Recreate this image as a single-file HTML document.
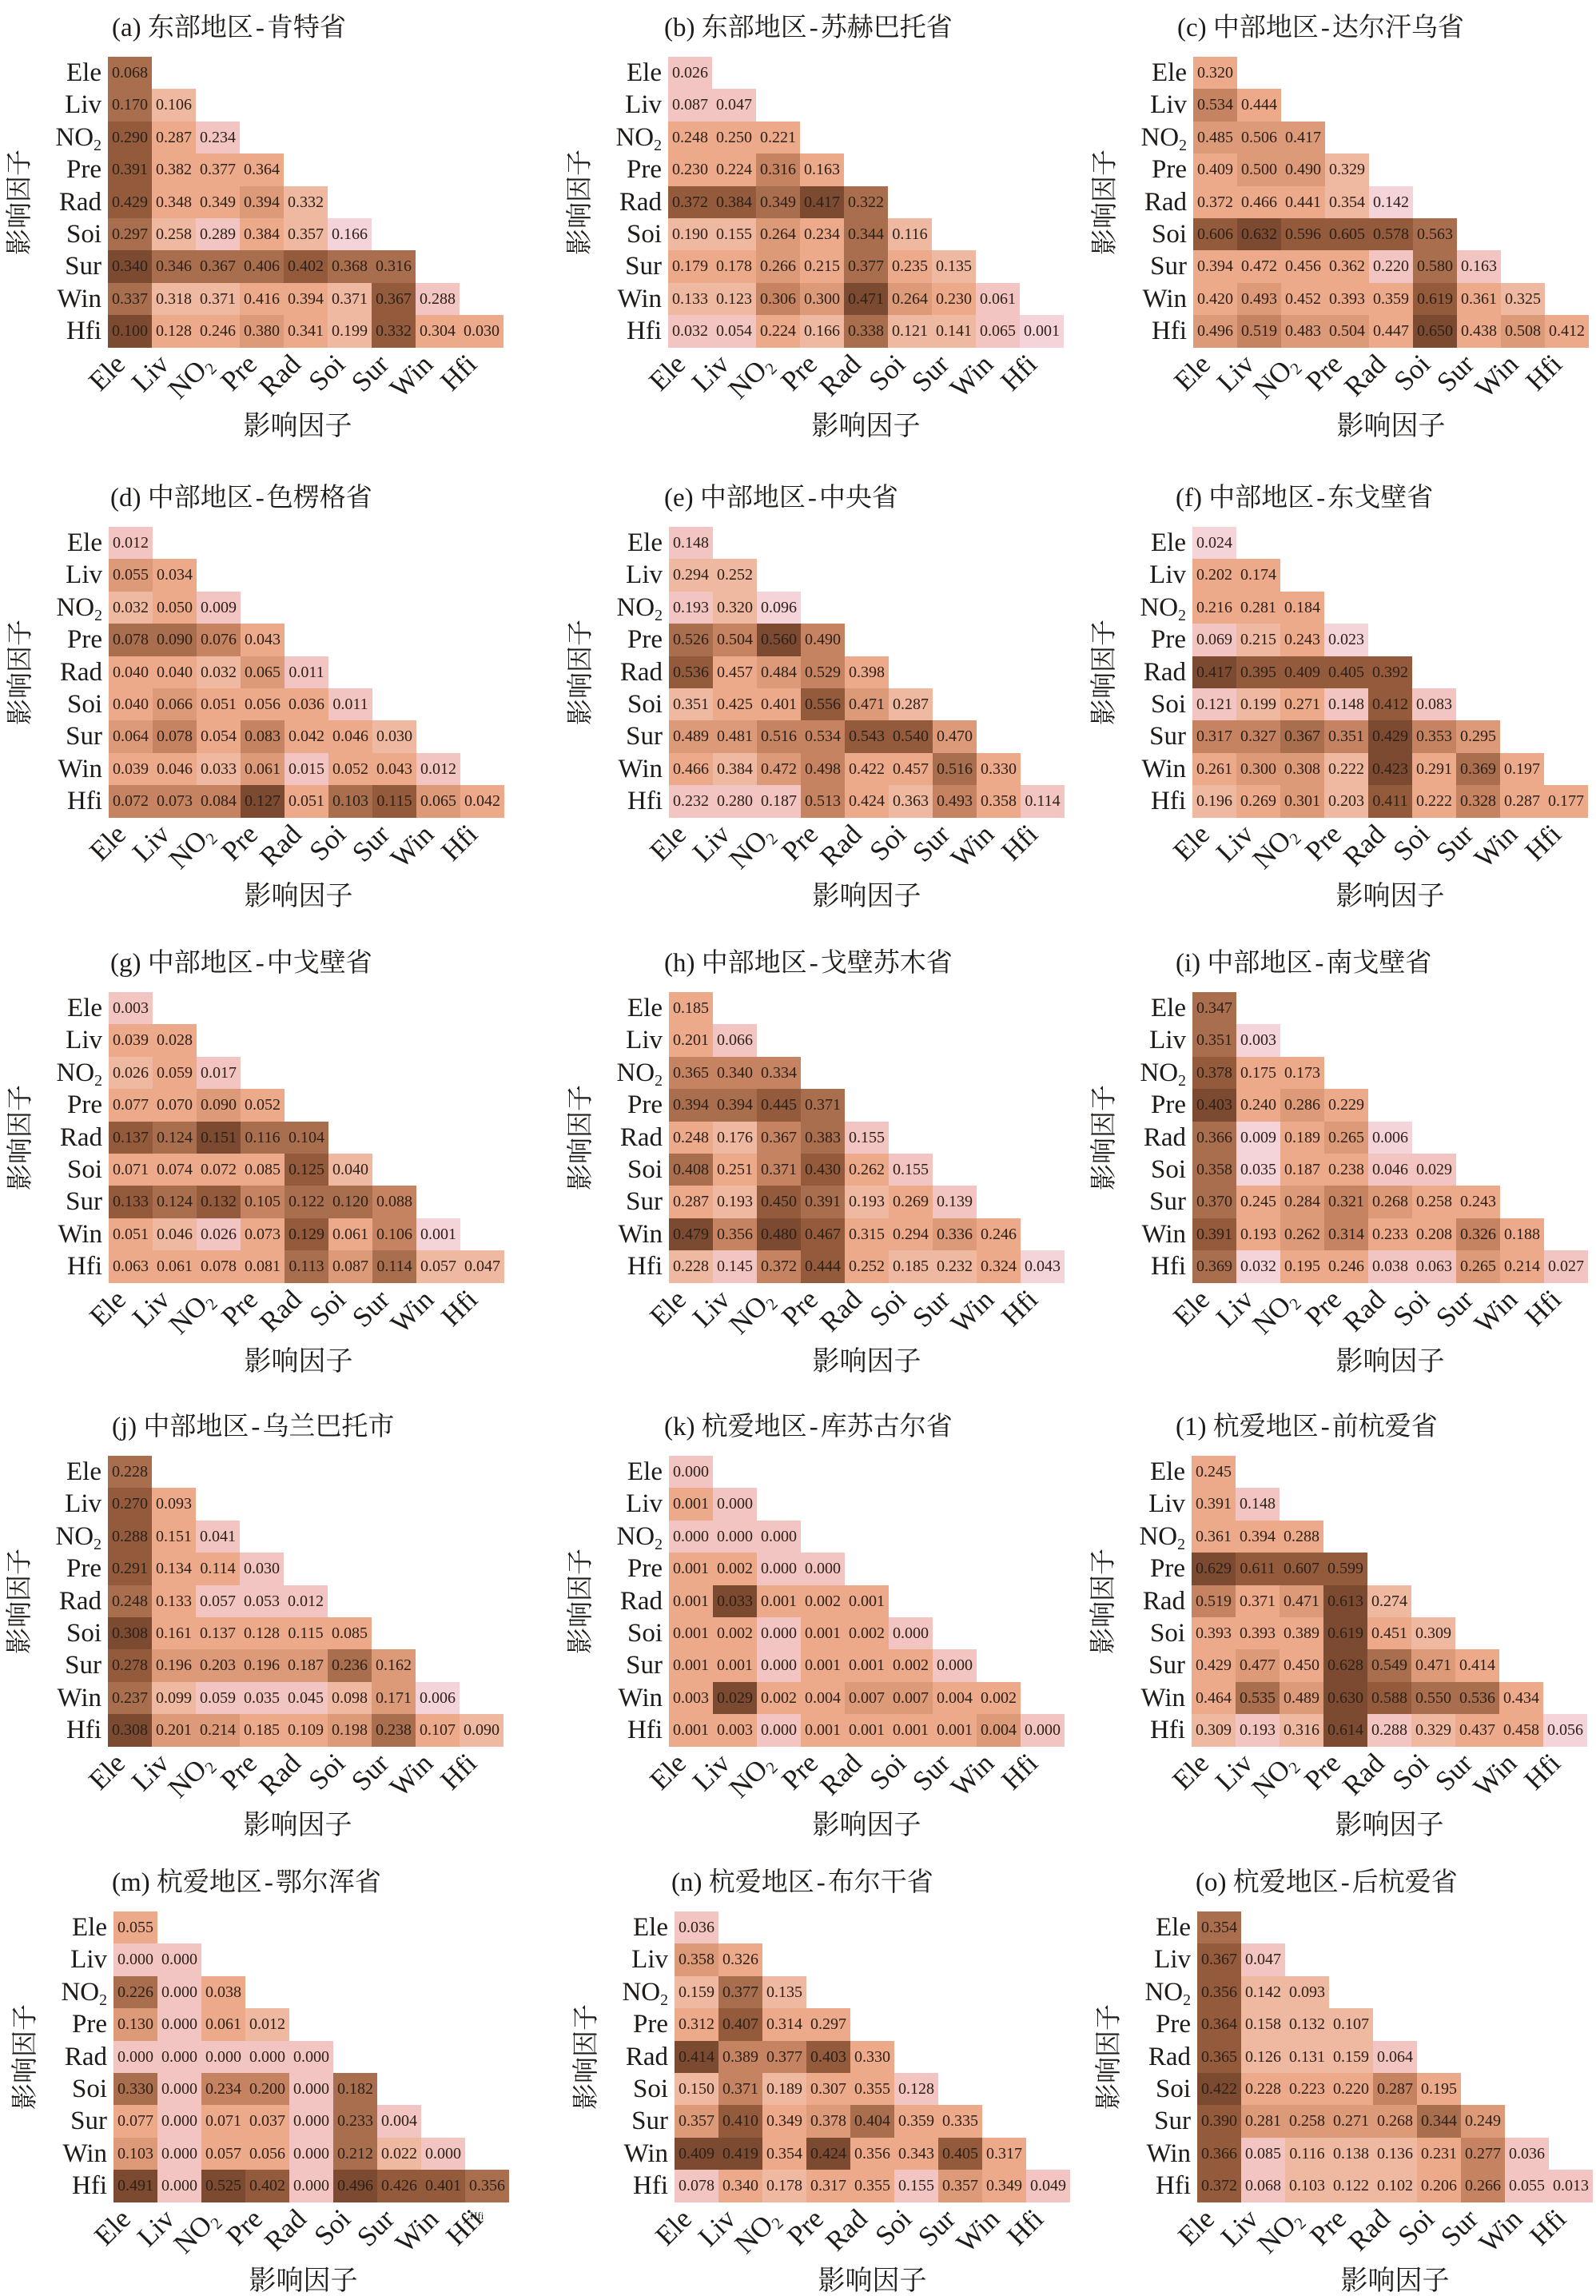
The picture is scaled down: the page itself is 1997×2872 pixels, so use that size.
<!DOCTYPE html>
<html><head><meta charset="utf-8">
<style>
html,body{margin:0;padding:0;background:#fff}
body{width:1997px;height:2871px;position:relative;overflow:hidden;font-family:"Liberation Serif","Noto Serif CJK SC",serif;color:#1e1a17}
.p{position:absolute;width:495px;height:364px}
.t{position:absolute;top:-56px;font-size:33px;line-height:40px;white-space:nowrap}
.t span{padding:0 3px}
.g{position:absolute;left:0;top:0}
.g div{display:flex;height:40.4px}
.g i{display:block;width:55px;height:40.4px;font-style:normal;font-size:20px;line-height:41px;text-align:center;color:#2b2019}
.c0{background:#f4d4d8}.c1{background:#f2c5c3}.c2{background:#efb8a1}.c3{background:#ecaa8b}.c4{background:#dc9a78}.c5{background:#c58361}.c6{background:#a96e4e}.c7{background:#935b3c}.c8{background:#7b4a30}
.rl{position:absolute;right:503px;top:0;width:160px;text-align:right;font-size:33px}
.rl div{height:40.4px;line-height:40.4px;white-space:nowrap}
sub{font-size:.6em;vertical-align:-.3em;line-height:0}
.yt{position:absolute;left:-110px;top:182px;font-size:33px;line-height:34px;white-space:nowrap;transform:translate(-50%,-50%) rotate(-90deg)}
.xl{position:absolute;left:247.5px;top:463px;font-size:34px;line-height:36px;white-space:nowrap;transform:translate(-50%,-50%)}
.L .xl{left:237.5px}
.xt s{position:absolute;top:356px;line-height:35px;font-size:35px;text-decoration:none;white-space:nowrap;transform:rotate(-45deg);transform-origin:100% 100%}
.x0{right:467.5px}.x1{right:412.5px}.x2{right:357.5px}.x3{right:302.5px}.x4{right:247.5px}.x5{right:192.5px}.x6{right:137.5px}.x7{right:82.5px}.x8{right:27.5px}
</style></head><body>

<!-- (a) -->
<div class="p L" style="left:135px;top:71px">
<div class="t" style="left:5px">(a) 东部地区<span>-</span>肯特省</div>
<div class="yt">影响因子</div>
<div class="rl"><div>Ele</div><div>Liv</div><div>NO<sub>2</sub></div><div>Pre</div><div>Rad</div><div>Soi</div><div>Sur</div><div>Win</div><div>Hfi</div></div>
<div class="g">
<div><i class="c6">0.068</i></div>
<div><i class="c6">0.170</i><i class="c2">0.106</i></div>
<div><i class="c7">0.290</i><i class="c3">0.287</i><i class="c1">0.234</i></div>
<div><i class="c7">0.391</i><i class="c3">0.382</i><i class="c3">0.377</i><i class="c3">0.364</i></div>
<div><i class="c7">0.429</i><i class="c3">0.348</i><i class="c3">0.349</i><i class="c4">0.394</i><i class="c2">0.332</i></div>
<div><i class="c6">0.297</i><i class="c2">0.258</i><i class="c1">0.289</i><i class="c3">0.384</i><i class="c2">0.357</i><i class="c0">0.166</i></div>
<div><i class="c8">0.340</i><i class="c6">0.346</i><i class="c6">0.367</i><i class="c6">0.406</i><i class="c7">0.402</i><i class="c6">0.368</i><i class="c6">0.316</i></div>
<div><i class="c6">0.337</i><i class="c2">0.318</i><i class="c2">0.371</i><i class="c3">0.416</i><i class="c3">0.394</i><i class="c2">0.371</i><i class="c7">0.367</i><i class="c1">0.288</i></div>
<div><i class="c8">0.100</i><i class="c3">0.128</i><i class="c3">0.246</i><i class="c4">0.380</i><i class="c3">0.341</i><i class="c2">0.199</i><i class="c7">0.332</i><i class="c3">0.304</i><i class="c3">0.030</i></div>
</div>
<div class="xt"><s class="x0">Ele</s><s class="x1">Liv</s><s class="x2">NO<sub>2</sub></s><s class="x3">Pre</s><s class="x4">Rad</s><s class="x5">Soi</s><s class="x6">Sur</s><s class="x7">Win</s><s class="x8">Hfi</s></div>
<div class="xl">影响因子</div>
</div>

<!-- (b) -->
<div class="p" style="left:836px;top:71px">
<div class="t" style="left:-5px">(b) 东部地区<span>-</span>苏赫巴托省</div>
<div class="yt">影响因子</div>
<div class="rl"><div>Ele</div><div>Liv</div><div>NO<sub>2</sub></div><div>Pre</div><div>Rad</div><div>Soi</div><div>Sur</div><div>Win</div><div>Hfi</div></div>
<div class="g">
<div><i class="c1">0.026</i></div>
<div><i class="c1">0.087</i><i class="c1">0.047</i></div>
<div><i class="c3">0.248</i><i class="c3">0.250</i><i class="c3">0.221</i></div>
<div><i class="c3">0.230</i><i class="c3">0.224</i><i class="c5">0.316</i><i class="c3">0.163</i></div>
<div><i class="c7">0.372</i><i class="c7">0.384</i><i class="c6">0.349</i><i class="c8">0.417</i><i class="c6">0.322</i></div>
<div><i class="c2">0.190</i><i class="c2">0.155</i><i class="c4">0.264</i><i class="c3">0.234</i><i class="c6">0.344</i><i class="c2">0.116</i></div>
<div><i class="c3">0.179</i><i class="c3">0.178</i><i class="c4">0.266</i><i class="c3">0.215</i><i class="c6">0.377</i><i class="c3">0.235</i><i class="c2">0.135</i></div>
<div><i class="c2">0.133</i><i class="c2">0.123</i><i class="c5">0.306</i><i class="c4">0.300</i><i class="c8">0.471</i><i class="c4">0.264</i><i class="c3">0.230</i><i class="c1">0.061</i></div>
<div><i class="c1">0.032</i><i class="c1">0.054</i><i class="c3">0.224</i><i class="c2">0.166</i><i class="c6">0.338</i><i class="c2">0.121</i><i class="c2">0.141</i><i class="c1">0.065</i><i class="c0">0.001</i></div>
</div>
<div class="xt"><s class="x0">Ele</s><s class="x1">Liv</s><s class="x2">NO<sub>2</sub></s><s class="x3">Pre</s><s class="x4">Rad</s><s class="x5">Soi</s><s class="x6">Sur</s><s class="x7">Win</s><s class="x8">Hfi</s></div>
<div class="xl">影响因子</div>
</div>

<!-- (c) -->
<div class="p" style="left:1493px;top:71px">
<div class="t" style="left:-20px">(c) 中部地区<span>-</span>达尔汗乌省</div>
<div class="yt">影响因子</div>
<div class="rl"><div>Ele</div><div>Liv</div><div>NO<sub>2</sub></div><div>Pre</div><div>Rad</div><div>Soi</div><div>Sur</div><div>Win</div><div>Hfi</div></div>
<div class="g">
<div><i class="c3">0.320</i></div>
<div><i class="c5">0.534</i><i class="c3">0.444</i></div>
<div><i class="c4">0.485</i><i class="c4">0.506</i><i class="c4">0.417</i></div>
<div><i class="c3">0.409</i><i class="c4">0.500</i><i class="c4">0.490</i><i class="c2">0.329</i></div>
<div><i class="c3">0.372</i><i class="c3">0.466</i><i class="c3">0.441</i><i class="c2">0.354</i><i class="c0">0.142</i></div>
<div><i class="c7">0.606</i><i class="c8">0.632</i><i class="c7">0.596</i><i class="c7">0.605</i><i class="c7">0.578</i><i class="c6">0.563</i></div>
<div><i class="c3">0.394</i><i class="c3">0.472</i><i class="c3">0.456</i><i class="c3">0.362</i><i class="c1">0.220</i><i class="c6">0.580</i><i class="c1">0.163</i></div>
<div><i class="c3">0.420</i><i class="c4">0.493</i><i class="c3">0.452</i><i class="c3">0.393</i><i class="c3">0.359</i><i class="c7">0.619</i><i class="c3">0.361</i><i class="c2">0.325</i></div>
<div><i class="c4">0.496</i><i class="c5">0.519</i><i class="c4">0.483</i><i class="c4">0.504</i><i class="c3">0.447</i><i class="c8">0.650</i><i class="c3">0.438</i><i class="c4">0.508</i><i class="c3">0.412</i></div>
</div>
<div class="xt"><s class="x0">Ele</s><s class="x1">Liv</s><s class="x2">NO<sub>2</sub></s><s class="x3">Pre</s><s class="x4">Rad</s><s class="x5">Soi</s><s class="x6">Sur</s><s class="x7">Win</s><s class="x8">Hfi</s></div>
<div class="xl">影响因子</div>
</div>

<!-- (d) -->
<div class="p L" style="left:136px;top:659px">
<div class="t" style="left:2px">(d) 中部地区<span>-</span>色楞格省</div>
<div class="yt">影响因子</div>
<div class="rl"><div>Ele</div><div>Liv</div><div>NO<sub>2</sub></div><div>Pre</div><div>Rad</div><div>Soi</div><div>Sur</div><div>Win</div><div>Hfi</div></div>
<div class="g">
<div><i class="c1">0.012</i></div>
<div><i class="c4">0.055</i><i class="c3">0.034</i></div>
<div><i class="c2">0.032</i><i class="c3">0.050</i><i class="c1">0.009</i></div>
<div><i class="c6">0.078</i><i class="c6">0.090</i><i class="c5">0.076</i><i class="c3">0.043</i></div>
<div><i class="c3">0.040</i><i class="c3">0.040</i><i class="c2">0.032</i><i class="c4">0.065</i><i class="c1">0.011</i></div>
<div><i class="c3">0.040</i><i class="c4">0.066</i><i class="c3">0.051</i><i class="c3">0.056</i><i class="c3">0.036</i><i class="c1">0.011</i></div>
<div><i class="c4">0.064</i><i class="c5">0.078</i><i class="c3">0.054</i><i class="c5">0.083</i><i class="c3">0.042</i><i class="c3">0.046</i><i class="c2">0.030</i></div>
<div><i class="c3">0.039</i><i class="c3">0.046</i><i class="c2">0.033</i><i class="c4">0.061</i><i class="c1">0.015</i><i class="c3">0.052</i><i class="c3">0.043</i><i class="c1">0.012</i></div>
<div><i class="c5">0.072</i><i class="c5">0.073</i><i class="c5">0.084</i><i class="c8">0.127</i><i class="c3">0.051</i><i class="c6">0.103</i><i class="c7">0.115</i><i class="c4">0.065</i><i class="c3">0.042</i></div>
</div>
<div class="xt"><s class="x0">Ele</s><s class="x1">Liv</s><s class="x2">NO<sub>2</sub></s><s class="x3">Pre</s><s class="x4">Rad</s><s class="x5">Soi</s><s class="x6">Sur</s><s class="x7">Win</s><s class="x8">Hfi</s></div>
<div class="xl">影响因子</div>
</div>

<!-- (e) -->
<div class="p" style="left:837px;top:659px">
<div class="t" style="left:-6px">(e) 中部地区<span>-</span>中央省</div>
<div class="yt">影响因子</div>
<div class="rl"><div>Ele</div><div>Liv</div><div>NO<sub>2</sub></div><div>Pre</div><div>Rad</div><div>Soi</div><div>Sur</div><div>Win</div><div>Hfi</div></div>
<div class="g">
<div><i class="c1">0.148</i></div>
<div><i class="c2">0.294</i><i class="c2">0.252</i></div>
<div><i class="c1">0.193</i><i class="c2">0.320</i><i class="c0">0.096</i></div>
<div><i class="c6">0.526</i><i class="c5">0.504</i><i class="c8">0.560</i><i class="c5">0.490</i></div>
<div><i class="c7">0.536</i><i class="c3">0.457</i><i class="c4">0.484</i><i class="c5">0.529</i><i class="c3">0.398</i></div>
<div><i class="c2">0.351</i><i class="c3">0.425</i><i class="c3">0.401</i><i class="c7">0.556</i><i class="c4">0.471</i><i class="c2">0.287</i></div>
<div><i class="c4">0.489</i><i class="c4">0.481</i><i class="c5">0.516</i><i class="c5">0.534</i><i class="c7">0.543</i><i class="c7">0.540</i><i class="c4">0.470</i></div>
<div><i class="c3">0.466</i><i class="c2">0.384</i><i class="c4">0.472</i><i class="c5">0.498</i><i class="c3">0.422</i><i class="c3">0.457</i><i class="c6">0.516</i><i class="c3">0.330</i></div>
<div><i class="c1">0.232</i><i class="c1">0.280</i><i class="c1">0.187</i><i class="c5">0.513</i><i class="c3">0.424</i><i class="c2">0.363</i><i class="c5">0.493</i><i class="c3">0.358</i><i class="c1">0.114</i></div>
</div>
<div class="xt"><s class="x0">Ele</s><s class="x1">Liv</s><s class="x2">NO<sub>2</sub></s><s class="x3">Pre</s><s class="x4">Rad</s><s class="x5">Soi</s><s class="x6">Sur</s><s class="x7">Win</s><s class="x8">Hfi</s></div>
<div class="xl">影响因子</div>
</div>

<!-- (f) -->
<div class="p" style="left:1492px;top:659px">
<div class="t" style="left:-21px">(f) 中部地区<span>-</span>东戈壁省</div>
<div class="yt">影响因子</div>
<div class="rl"><div>Ele</div><div>Liv</div><div>NO<sub>2</sub></div><div>Pre</div><div>Rad</div><div>Soi</div><div>Sur</div><div>Win</div><div>Hfi</div></div>
<div class="g">
<div><i class="c0">0.024</i></div>
<div><i class="c3">0.202</i><i class="c3">0.174</i></div>
<div><i class="c3">0.216</i><i class="c3">0.281</i><i class="c3">0.184</i></div>
<div><i class="c1">0.069</i><i class="c2">0.215</i><i class="c3">0.243</i><i class="c0">0.023</i></div>
<div><i class="c8">0.417</i><i class="c7">0.395</i><i class="c7">0.409</i><i class="c7">0.405</i><i class="c7">0.392</i></div>
<div><i class="c1">0.121</i><i class="c2">0.199</i><i class="c3">0.271</i><i class="c1">0.148</i><i class="c7">0.412</i><i class="c1">0.083</i></div>
<div><i class="c5">0.317</i><i class="c5">0.327</i><i class="c6">0.367</i><i class="c5">0.351</i><i class="c8">0.429</i><i class="c5">0.353</i><i class="c4">0.295</i></div>
<div><i class="c3">0.261</i><i class="c4">0.300</i><i class="c4">0.308</i><i class="c2">0.222</i><i class="c8">0.423</i><i class="c3">0.291</i><i class="c6">0.369</i><i class="c3">0.197</i></div>
<div><i class="c2">0.196</i><i class="c3">0.269</i><i class="c4">0.301</i><i class="c2">0.203</i><i class="c7">0.411</i><i class="c3">0.222</i><i class="c5">0.328</i><i class="c3">0.287</i><i class="c3">0.177</i></div>
</div>
<div class="xt"><s class="x0">Ele</s><s class="x1">Liv</s><s class="x2">NO<sub>2</sub></s><s class="x3">Pre</s><s class="x4">Rad</s><s class="x5">Soi</s><s class="x6">Sur</s><s class="x7">Win</s><s class="x8">Hfi</s></div>
<div class="xl">影响因子</div>
</div>

<!-- (g) -->
<div class="p L" style="left:136px;top:1241px">
<div class="t" style="left:2px">(g) 中部地区<span>-</span>中戈壁省</div>
<div class="yt">影响因子</div>
<div class="rl"><div>Ele</div><div>Liv</div><div>NO<sub>2</sub></div><div>Pre</div><div>Rad</div><div>Soi</div><div>Sur</div><div>Win</div><div>Hfi</div></div>
<div class="g">
<div><i class="c1">0.003</i></div>
<div><i class="c3">0.039</i><i class="c3">0.028</i></div>
<div><i class="c2">0.026</i><i class="c3">0.059</i><i class="c1">0.017</i></div>
<div><i class="c3">0.077</i><i class="c3">0.070</i><i class="c4">0.090</i><i class="c3">0.052</i></div>
<div><i class="c7">0.137</i><i class="c6">0.124</i><i class="c8">0.151</i><i class="c6">0.116</i><i class="c6">0.104</i></div>
<div><i class="c3">0.071</i><i class="c3">0.074</i><i class="c3">0.072</i><i class="c3">0.085</i><i class="c7">0.125</i><i class="c2">0.040</i></div>
<div><i class="c7">0.133</i><i class="c6">0.124</i><i class="c7">0.132</i><i class="c5">0.105</i><i class="c6">0.122</i><i class="c6">0.120</i><i class="c5">0.088</i></div>
<div><i class="c3">0.051</i><i class="c2">0.046</i><i class="c1">0.026</i><i class="c3">0.073</i><i class="c7">0.129</i><i class="c3">0.061</i><i class="c5">0.106</i><i class="c0">0.001</i></div>
<div><i class="c3">0.063</i><i class="c3">0.061</i><i class="c3">0.078</i><i class="c3">0.081</i><i class="c6">0.113</i><i class="c4">0.087</i><i class="c6">0.114</i><i class="c2">0.057</i><i class="c2">0.047</i></div>
</div>
<div class="xt"><s class="x0">Ele</s><s class="x1">Liv</s><s class="x2">NO<sub>2</sub></s><s class="x3">Pre</s><s class="x4">Rad</s><s class="x5">Soi</s><s class="x6">Sur</s><s class="x7">Win</s><s class="x8">Hfi</s></div>
<div class="xl">影响因子</div>
</div>

<!-- (h) -->
<div class="p" style="left:837px;top:1241px">
<div class="t" style="left:-6px">(h) 中部地区<span>-</span>戈壁苏木省</div>
<div class="yt">影响因子</div>
<div class="rl"><div>Ele</div><div>Liv</div><div>NO<sub>2</sub></div><div>Pre</div><div>Rad</div><div>Soi</div><div>Sur</div><div>Win</div><div>Hfi</div></div>
<div class="g">
<div><i class="c3">0.185</i></div>
<div><i class="c3">0.201</i><i class="c1">0.066</i></div>
<div><i class="c5">0.365</i><i class="c5">0.340</i><i class="c5">0.334</i></div>
<div><i class="c6">0.394</i><i class="c6">0.394</i><i class="c7">0.445</i><i class="c6">0.371</i></div>
<div><i class="c3">0.248</i><i class="c2">0.176</i><i class="c5">0.367</i><i class="c6">0.383</i><i class="c1">0.155</i></div>
<div><i class="c6">0.408</i><i class="c3">0.251</i><i class="c5">0.371</i><i class="c7">0.430</i><i class="c3">0.262</i><i class="c1">0.155</i></div>
<div><i class="c3">0.287</i><i class="c2">0.193</i><i class="c7">0.450</i><i class="c6">0.391</i><i class="c2">0.193</i><i class="c3">0.269</i><i class="c1">0.139</i></div>
<div><i class="c8">0.479</i><i class="c5">0.356</i><i class="c8">0.480</i><i class="c7">0.467</i><i class="c3">0.315</i><i class="c3">0.294</i><i class="c4">0.336</i><i class="c3">0.246</i></div>
<div><i class="c2">0.228</i><i class="c1">0.145</i><i class="c5">0.372</i><i class="c7">0.444</i><i class="c3">0.252</i><i class="c2">0.185</i><i class="c2">0.232</i><i class="c3">0.324</i><i class="c0">0.043</i></div>
</div>
<div class="xt"><s class="x0">Ele</s><s class="x1">Liv</s><s class="x2">NO<sub>2</sub></s><s class="x3">Pre</s><s class="x4">Rad</s><s class="x5">Soi</s><s class="x6">Sur</s><s class="x7">Win</s><s class="x8">Hfi</s></div>
<div class="xl">影响因子</div>
</div>

<!-- (i) -->
<div class="p" style="left:1492px;top:1241px">
<div class="t" style="left:-21px">(i) 中部地区<span>-</span>南戈壁省</div>
<div class="yt">影响因子</div>
<div class="rl"><div>Ele</div><div>Liv</div><div>NO<sub>2</sub></div><div>Pre</div><div>Rad</div><div>Soi</div><div>Sur</div><div>Win</div><div>Hfi</div></div>
<div class="g">
<div><i class="c6">0.347</i></div>
<div><i class="c6">0.351</i><i class="c0">0.003</i></div>
<div><i class="c7">0.378</i><i class="c3">0.175</i><i class="c3">0.173</i></div>
<div><i class="c8">0.403</i><i class="c3">0.240</i><i class="c4">0.286</i><i class="c3">0.229</i></div>
<div><i class="c6">0.366</i><i class="c0">0.009</i><i class="c3">0.189</i><i class="c4">0.265</i><i class="c0">0.006</i></div>
<div><i class="c6">0.358</i><i class="c0">0.035</i><i class="c3">0.187</i><i class="c3">0.238</i><i class="c1">0.046</i><i class="c1">0.029</i></div>
<div><i class="c6">0.370</i><i class="c3">0.245</i><i class="c4">0.284</i><i class="c5">0.321</i><i class="c4">0.268</i><i class="c3">0.258</i><i class="c3">0.243</i></div>
<div><i class="c7">0.391</i><i class="c3">0.193</i><i class="c4">0.262</i><i class="c5">0.314</i><i class="c3">0.233</i><i class="c3">0.208</i><i class="c5">0.326</i><i class="c3">0.188</i></div>
<div><i class="c6">0.369</i><i class="c0">0.032</i><i class="c3">0.195</i><i class="c3">0.246</i><i class="c1">0.038</i><i class="c1">0.063</i><i class="c4">0.265</i><i class="c3">0.214</i><i class="c1">0.027</i></div>
</div>
<div class="xt"><s class="x0">Ele</s><s class="x1">Liv</s><s class="x2">NO<sub>2</sub></s><s class="x3">Pre</s><s class="x4">Rad</s><s class="x5">Soi</s><s class="x6">Sur</s><s class="x7">Win</s><s class="x8">Hfi</s></div>
<div class="xl">影响因子</div>
</div>

<!-- (j) -->
<div class="p L" style="left:135px;top:1821px">
<div class="t" style="left:5px">(j) 中部地区<span>-</span>乌兰巴托市</div>
<div class="yt">影响因子</div>
<div class="rl"><div>Ele</div><div>Liv</div><div>NO<sub>2</sub></div><div>Pre</div><div>Rad</div><div>Soi</div><div>Sur</div><div>Win</div><div>Hfi</div></div>
<div class="g">
<div><i class="c6">0.228</i></div>
<div><i class="c7">0.270</i><i class="c3">0.093</i></div>
<div><i class="c7">0.288</i><i class="c3">0.151</i><i class="c1">0.041</i></div>
<div><i class="c7">0.291</i><i class="c3">0.134</i><i class="c3">0.114</i><i class="c1">0.030</i></div>
<div><i class="c6">0.248</i><i class="c3">0.133</i><i class="c1">0.057</i><i class="c1">0.053</i><i class="c1">0.012</i></div>
<div><i class="c8">0.308</i><i class="c3">0.161</i><i class="c3">0.137</i><i class="c3">0.128</i><i class="c3">0.115</i><i class="c3">0.085</i></div>
<div><i class="c7">0.278</i><i class="c4">0.196</i><i class="c4">0.203</i><i class="c4">0.196</i><i class="c4">0.187</i><i class="c6">0.236</i><i class="c4">0.162</i></div>
<div><i class="c6">0.237</i><i class="c2">0.099</i><i class="c1">0.059</i><i class="c1">0.035</i><i class="c1">0.045</i><i class="c2">0.098</i><i class="c4">0.171</i><i class="c0">0.006</i></div>
<div><i class="c8">0.308</i><i class="c4">0.201</i><i class="c4">0.214</i><i class="c3">0.185</i><i class="c3">0.109</i><i class="c4">0.198</i><i class="c6">0.238</i><i class="c3">0.107</i><i class="c2">0.090</i></div>
</div>
<div class="xt"><s class="x0">Ele</s><s class="x1">Liv</s><s class="x2">NO<sub>2</sub></s><s class="x3">Pre</s><s class="x4">Rad</s><s class="x5">Soi</s><s class="x6">Sur</s><s class="x7">Win</s><s class="x8">Hfi</s></div>
<div class="xl">影响因子</div>
</div>

<!-- (k) -->
<div class="p" style="left:837px;top:1821px">
<div class="t" style="left:-6px">(k) 杭爱地区<span>-</span>库苏古尔省</div>
<div class="yt">影响因子</div>
<div class="rl"><div>Ele</div><div>Liv</div><div>NO<sub>2</sub></div><div>Pre</div><div>Rad</div><div>Soi</div><div>Sur</div><div>Win</div><div>Hfi</div></div>
<div class="g">
<div><i class="c1">0.000</i></div>
<div><i class="c3">0.001</i><i class="c1">0.000</i></div>
<div><i class="c1">0.000</i><i class="c1">0.000</i><i class="c1">0.000</i></div>
<div><i class="c3">0.001</i><i class="c3">0.002</i><i class="c1">0.000</i><i class="c1">0.000</i></div>
<div><i class="c3">0.001</i><i class="c8">0.033</i><i class="c3">0.001</i><i class="c3">0.002</i><i class="c3">0.001</i></div>
<div><i class="c3">0.001</i><i class="c3">0.002</i><i class="c1">0.000</i><i class="c3">0.001</i><i class="c3">0.002</i><i class="c1">0.000</i></div>
<div><i class="c3">0.001</i><i class="c3">0.001</i><i class="c1">0.000</i><i class="c3">0.001</i><i class="c3">0.001</i><i class="c3">0.002</i><i class="c1">0.000</i></div>
<div><i class="c3">0.003</i><i class="c8">0.029</i><i class="c3">0.002</i><i class="c3">0.004</i><i class="c4">0.007</i><i class="c4">0.007</i><i class="c3">0.004</i><i class="c3">0.002</i></div>
<div><i class="c3">0.001</i><i class="c3">0.003</i><i class="c1">0.000</i><i class="c3">0.001</i><i class="c3">0.001</i><i class="c3">0.001</i><i class="c3">0.001</i><i class="c4">0.004</i><i class="c1">0.000</i></div>
</div>
<div class="xt"><s class="x0">Ele</s><s class="x1">Liv</s><s class="x2">NO<sub>2</sub></s><s class="x3">Pre</s><s class="x4">Rad</s><s class="x5">Soi</s><s class="x6">Sur</s><s class="x7">Win</s><s class="x8">Hfi</s></div>
<div class="xl">影响因子</div>
</div>

<!-- (l) -->
<div class="p" style="left:1491px;top:1821px">
<div class="t" style="left:-20px">(1) 杭爱地区<span>-</span>前杭爱省</div>
<div class="yt">影响因子</div>
<div class="rl"><div>Ele</div><div>Liv</div><div>NO<sub>2</sub></div><div>Pre</div><div>Rad</div><div>Soi</div><div>Sur</div><div>Win</div><div>Hfi</div></div>
<div class="g">
<div><i class="c3">0.245</i></div>
<div><i class="c3">0.391</i><i class="c1">0.148</i></div>
<div><i class="c3">0.361</i><i class="c3">0.394</i><i class="c3">0.288</i></div>
<div><i class="c8">0.629</i><i class="c7">0.611</i><i class="c7">0.607</i><i class="c7">0.599</i></div>
<div><i class="c5">0.519</i><i class="c3">0.371</i><i class="c4">0.471</i><i class="c8">0.613</i><i class="c2">0.274</i></div>
<div><i class="c3">0.393</i><i class="c3">0.393</i><i class="c3">0.389</i><i class="c8">0.619</i><i class="c3">0.451</i><i class="c2">0.309</i></div>
<div><i class="c3">0.429</i><i class="c4">0.477</i><i class="c3">0.450</i><i class="c8">0.628</i><i class="c6">0.549</i><i class="c4">0.471</i><i class="c3">0.414</i></div>
<div><i class="c3">0.464</i><i class="c6">0.535</i><i class="c4">0.489</i><i class="c8">0.630</i><i class="c7">0.588</i><i class="c6">0.550</i><i class="c6">0.536</i><i class="c3">0.434</i></div>
<div><i class="c2">0.309</i><i class="c1">0.193</i><i class="c2">0.316</i><i class="c8">0.614</i><i class="c1">0.288</i><i class="c2">0.329</i><i class="c3">0.437</i><i class="c3">0.458</i><i class="c0">0.056</i></div>
</div>
<div class="xt"><s class="x0">Ele</s><s class="x1">Liv</s><s class="x2">NO<sub>2</sub></s><s class="x3">Pre</s><s class="x4">Rad</s><s class="x5">Soi</s><s class="x6">Sur</s><s class="x7">Win</s><s class="x8">Hfi</s></div>
<div class="xl">影响因子</div>
</div>

<!-- (m) -->
<div class="p L" style="left:142px;top:2391px">
<div class="t" style="left:-2px">(m) 杭爱地区<span>-</span>鄂尔浑省</div>
<div class="yt">影响因子</div>
<div class="rl"><div>Ele</div><div>Liv</div><div>NO<sub>2</sub></div><div>Pre</div><div>Rad</div><div>Soi</div><div>Sur</div><div>Win</div><div>Hfi</div></div>
<div class="g">
<div><i class="c3">0.055</i></div>
<div><i class="c1">0.000</i><i class="c1">0.000</i></div>
<div><i class="c6">0.226</i><i class="c1">0.000</i><i class="c3">0.038</i></div>
<div><i class="c4">0.130</i><i class="c1">0.000</i><i class="c3">0.061</i><i class="c2">0.012</i></div>
<div><i class="c1">0.000</i><i class="c1">0.000</i><i class="c1">0.000</i><i class="c1">0.000</i><i class="c1">0.000</i></div>
<div><i class="c6">0.330</i><i class="c1">0.000</i><i class="c5">0.234</i><i class="c5">0.200</i><i class="c1">0.000</i><i class="c6">0.182</i></div>
<div><i class="c3">0.077</i><i class="c1">0.000</i><i class="c3">0.071</i><i class="c3">0.037</i><i class="c1">0.000</i><i class="c6">0.233</i><i class="c1">0.004</i></div>
<div><i class="c4">0.103</i><i class="c1">0.000</i><i class="c3">0.057</i><i class="c3">0.056</i><i class="c1">0.000</i><i class="c6">0.212</i><i class="c2">0.022</i><i class="c1">0.000</i></div>
<div><i class="c8">0.491</i><i class="c1">0.000</i><i class="c8">0.525</i><i class="c7">0.402</i><i class="c1">0.000</i><i class="c8">0.496</i><i class="c7">0.426</i><i class="c7">0.401</i><i class="c6">0.356</i></div>
</div>
<div class="xt"><s class="x0">Ele</s><s class="x1">Liv</s><s class="x2">NO<sub>2</sub></s><s class="x3">Pre</s><s class="x4">Rad</s><s class="x5">Soi</s><s class="x6">Sur</s><s class="x7">Win</s><s class="x8">Hfi</s></div>
<div style="position:absolute;left:446px;top:374px;font-size:13px;line-height:14px">Hfi</div>
<div class="xl">影响因子</div>
</div>

<!-- (n) -->
<div class="p" style="left:844px;top:2391px">
<div class="t" style="left:-4px">(n) 杭爱地区<span>-</span>布尔干省</div>
<div class="yt">影响因子</div>
<div class="rl"><div>Ele</div><div>Liv</div><div>NO<sub>2</sub></div><div>Pre</div><div>Rad</div><div>Soi</div><div>Sur</div><div>Win</div><div>Hfi</div></div>
<div class="g">
<div><i class="c1">0.036</i></div>
<div><i class="c4">0.358</i><i class="c3">0.326</i></div>
<div><i class="c2">0.159</i><i class="c6">0.377</i><i class="c2">0.135</i></div>
<div><i class="c3">0.312</i><i class="c7">0.407</i><i class="c3">0.314</i><i class="c3">0.297</i></div>
<div><i class="c8">0.414</i><i class="c5">0.389</i><i class="c5">0.377</i><i class="c7">0.403</i><i class="c3">0.330</i></div>
<div><i class="c2">0.150</i><i class="c5">0.371</i><i class="c2">0.189</i><i class="c3">0.307</i><i class="c3">0.355</i><i class="c1">0.128</i></div>
<div><i class="c4">0.357</i><i class="c7">0.410</i><i class="c3">0.349</i><i class="c4">0.378</i><i class="c6">0.404</i><i class="c3">0.359</i><i class="c3">0.335</i></div>
<div><i class="c8">0.409</i><i class="c8">0.419</i><i class="c3">0.354</i><i class="c8">0.424</i><i class="c3">0.356</i><i class="c3">0.343</i><i class="c7">0.405</i><i class="c3">0.317</i></div>
<div><i class="c1">0.078</i><i class="c3">0.340</i><i class="c2">0.178</i><i class="c3">0.317</i><i class="c3">0.355</i><i class="c1">0.155</i><i class="c4">0.357</i><i class="c3">0.349</i><i class="c1">0.049</i></div>
</div>
<div class="xt"><s class="x0">Ele</s><s class="x1">Liv</s><s class="x2">NO<sub>2</sub></s><s class="x3">Pre</s><s class="x4">Rad</s><s class="x5">Soi</s><s class="x6">Sur</s><s class="x7">Win</s><s class="x8">Hfi</s></div>
<div class="xl">影响因子</div>
</div>

<!-- (o) -->
<div class="p" style="left:1498px;top:2391px">
<div class="t" style="left:-2px">(o) 杭爱地区<span>-</span>后杭爱省</div>
<div class="yt">影响因子</div>
<div class="rl"><div>Ele</div><div>Liv</div><div>NO<sub>2</sub></div><div>Pre</div><div>Rad</div><div>Soi</div><div>Sur</div><div>Win</div><div>Hfi</div></div>
<div class="g">
<div><i class="c6">0.354</i></div>
<div><i class="c7">0.367</i><i class="c1">0.047</i></div>
<div><i class="c7">0.356</i><i class="c2">0.142</i><i class="c2">0.093</i></div>
<div><i class="c7">0.364</i><i class="c2">0.158</i><i class="c2">0.132</i><i class="c2">0.107</i></div>
<div><i class="c7">0.365</i><i class="c2">0.126</i><i class="c2">0.131</i><i class="c2">0.159</i><i class="c1">0.064</i></div>
<div><i class="c8">0.422</i><i class="c3">0.228</i><i class="c3">0.223</i><i class="c3">0.220</i><i class="c5">0.287</i><i class="c3">0.195</i></div>
<div><i class="c7">0.390</i><i class="c4">0.281</i><i class="c4">0.258</i><i class="c4">0.271</i><i class="c4">0.268</i><i class="c6">0.344</i><i class="c4">0.249</i></div>
<div><i class="c7">0.366</i><i class="c1">0.085</i><i class="c2">0.116</i><i class="c2">0.138</i><i class="c2">0.136</i><i class="c3">0.231</i><i class="c5">0.277</i><i class="c1">0.036</i></div>
<div><i class="c7">0.372</i><i class="c1">0.068</i><i class="c2">0.103</i><i class="c2">0.122</i><i class="c2">0.102</i><i class="c3">0.206</i><i class="c5">0.266</i><i class="c1">0.055</i><i class="c1">0.013</i></div>
</div>
<div class="xt"><s class="x0">Ele</s><s class="x1">Liv</s><s class="x2">NO<sub>2</sub></s><s class="x3">Pre</s><s class="x4">Rad</s><s class="x5">Soi</s><s class="x6">Sur</s><s class="x7">Win</s><s class="x8">Hfi</s></div>
<div class="xl">影响因子</div>
</div>

</body></html>
